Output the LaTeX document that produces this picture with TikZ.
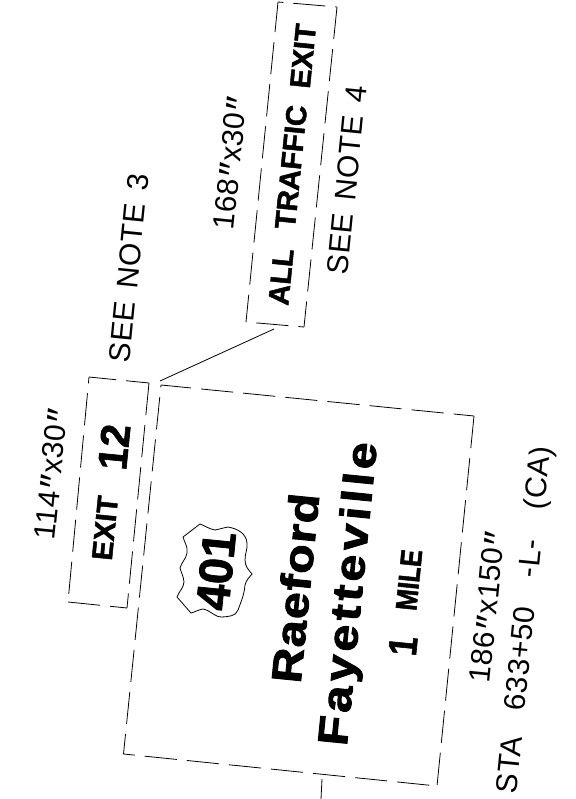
\documentclass[tikz,border=0pt]{standalone}
\usepackage{fontspec}
\setmainfont{Liberation Sans}
\newfontfamily\thinf[LetterSpace=2]{Liberation Sans}
\newfontfamily\wideb[FakeStretch=1.15,FakeBold=2.2,LetterSpace=3]{Liberation Sans Bold}
\newfontfamily\widel[FakeStretch=1.15,FakeBold=2.2,LetterSpace=9]{Liberation Sans Bold}
\newfontfamily\widem[FakeStretch=0.85,FakeBold=1.5]{Liberation Sans Bold}
\newfontfamily\widec[FakeBold=1.6]{Liberation Sans Bold}
\newcommand{\dq}{\kern2pt\raisebox{-8pt}{\fontsize{40}{40}\selectfont\char"2033}\kern1pt}
\newcommand{\gp}[1]{\kern#1pt}
\tikzset{
  signbox/.style={draw=black,line width=0.8pt,dash pattern=on 32.3pt off 10pt},
  thin label/.style={rotate=84.3,inner sep=0pt,font=\thinf\fontsize{30}{30}\selectfont},
  big/.style={rotate=84.3,inner sep=0pt,font=\wideb\fontsize{42}{42}\selectfont},
  small/.style={rotate=84.3,inner sep=0pt,font=\widec\fontsize{29}{29}\selectfont},
  leader/.style={draw=black,line width=0.8pt}
}
\begin{document}
\begin{tikzpicture}[x=1pt,y=-1pt]
\useasboundingbox (0,0) rectangle (575,799);
% main panel
\coordinate (mTL) at (161,385);\coordinate (mTR) at (474,416);
\coordinate (mBR) at (437,786);\coordinate (mBL) at (123.5,754);
\draw[signbox,dash phase=21] (mBL) -- (mBR);
\draw[signbox,dash phase=0] (mTR) -- (mBR);
\draw[signbox,dash phase=2] (mTL) -- (mTR);
\draw[signbox,dash phase=30] (mTL) -- (mBL);
% exit panel
\coordinate (eTL) at (89,377);\coordinate (eTR) at (149,383);
\coordinate (eBR) at (127,608);\coordinate (eBL) at (68,602);
\draw[signbox,dash phase=5] (eTL) -- (eTR);
\draw[signbox,dash phase=0] (eTR) -- (eBR);
\draw[signbox,dash phase=0] (eBL) -- (eBR);
\draw[signbox,dash phase=26] (eTL) -- (eBL);
% all traffic panel
\coordinate (aTL) at (278,2);\coordinate (aTR) at (337,7);
\coordinate (aBR) at (304,327);\coordinate (aBL) at (246,322);
\draw[signbox,dash phase=27] (aTL) -- (aTR);
\draw[signbox,dash phase=0] (aTR) -- (aBR);
\draw[signbox,dash phase=32] (aBL) -- (aBR);
\draw[signbox,dash phase=2] (aTL) -- (aBL);
% leaders
\coordinate (lA) at (160,381);\coordinate (lB) at (274,329);
\draw[leader] (lA) -- (lB);
\coordinate (tA) at (322,779);\coordinate (tB) at (321,799);
\draw[leader] (tA) -- (tB);
% shield
\draw[line width=0.8pt] (200,524) -- (183,537) to[out=-75,in=80] (187,553)
  to[out=-100,in=75] (180,568) to[out=-75,in=95] (184,582) to[out=-95,in=70] (177,597)
  -- (191,613) to[out=15,in=-170] (203,609) to[out=-10,in=180] (222,617)
  to[out=5,in=-110] (238,610) to[out=70,in=-95] (245,585) to[out=75,in=-130] (252,574)
  to[out=130,in=-90] (245,560) to[out=90,in=-85] (247,543) to[out=95,in=-10] (228,527)
  to[out=190,in=10] (215,530) to[out=170,in=-20] cycle;
% texts
\node[big] (raeford) at (295,588) {Raeford};
\node[big,font=\widel\fontsize{42}{42}\selectfont] (fay) at (351,594) {Fayetteville};
\node[big,font=\widem\fontsize{40}{40}\selectfont] (one) at (403,646) {1};
\node[small,font=\widem\fontsize{30}{30}\selectfont] (mile) at (409,580) {MILE};
\node[small,font=\widec\fontsize{47}{47}\selectfont] (r401) at (216,571) {401};
\node[small] (exit) at (105,528) {EXIT};
\node[small,font=\widec\fontsize{41}{41}\selectfont] (twelve) at (114,447) {12};
\node[small] (all) at (281,277) {ALL};
\node[small] (traffic) at (291,167) {TRAFFIC};
\node[small] (aexit) at (303,56) {EXIT};
\node[thin label] (d1) at (55,474) {114\dq x30\dq};
\node[thin label] (d2) at (234,163) {168\dq x30\dq};
\node[thin label] (d3) at (491,607) {186\dq x150\dq};
\node[thin label] (n3) at (129,268) {SEE\gp{13}NOTE\gp{13}3};
\node[thin label] (n4) at (347,180) {SEE\gp{13}NOTE\gp{13}4};
\node[thin label] (sta) at (526,620) {STA\gp{26}633+50\gp{30}-L-\gp{30}(CA)};
\end{tikzpicture}
\end{document}
